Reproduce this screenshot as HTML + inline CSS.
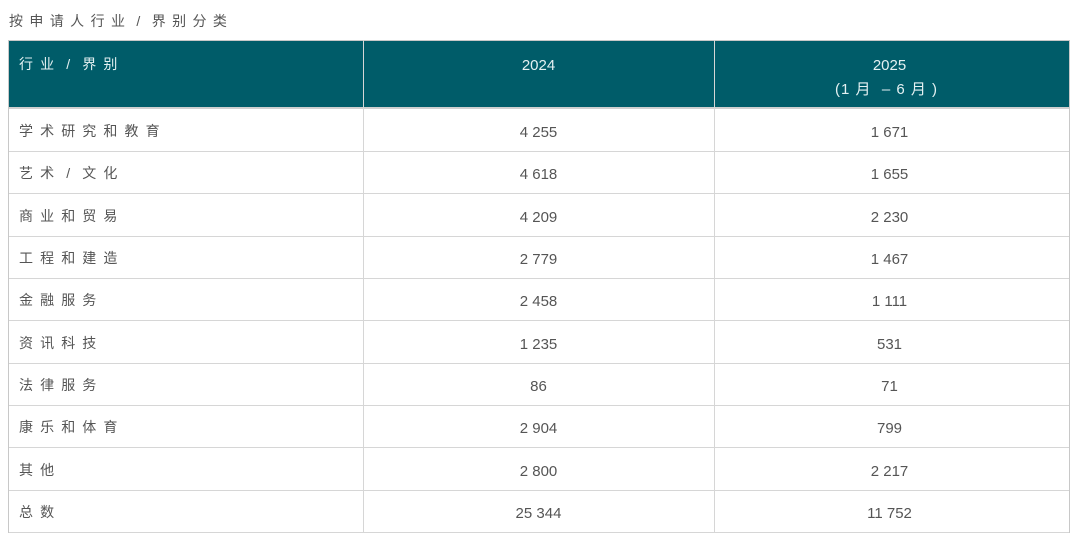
<!DOCTYPE html>
<html><head><meta charset="utf-8">
<style>
body{margin:0;width:1080px;height:544px;background:#fff;position:relative;overflow:hidden;font-family:"Liberation Sans","Noto Sans CJK SC",sans-serif;}
.t{position:absolute;left:9px;top:10px;font-size:14px;color:#555;line-height:20px;white-space:nowrap;}
.c{display:inline-block;width:14px;text-align:center;}
.t .c{margin-right:6.4px;}
.lab .c{margin-right:7.1px;}
.hdr{position:absolute;left:8px;top:40px;width:1062px;height:68px;background:#005c69;}
.hl{position:absolute;height:1px;background:#d6d6d6;left:8px;width:1062px;}
.vl{position:absolute;width:1px;background:#d6d6d6;top:40px;height:493px;}
.lab{position:absolute;left:19px;font-size:14px;color:#555;line-height:20px;white-space:nowrap;}
.num{position:absolute;width:351px;text-align:center;font-size:15px;color:#555;line-height:20px;white-space:nowrap;margin-top:1.5px;}
.h{color:#e4f1f2;}
</style></head>
<body>
<div class="t" style="top:11px"><span class="c">按</span><span class="c">申</span><span class="c">请</span><span class="c">人</span><span class="c">行</span><span class="c">业</span><span class="c">/</span><span class="c">界</span><span class="c">别</span><span class="c">分</span><span class="c">类</span></div>

<div class="hdr"></div>
<div class="hl" style="top:40px;background:#c8c8c8"></div>
<div class="hl" style="top:107px;height:2px;background:#d0d0d0"></div>

<div class="lab h" style="top:54px"><span class="c">行</span><span class="c">业</span><span class="c">/</span><span class="c">界</span><span class="c">别</span></div>
<div class="num h" style="left:363px;top:54px">2024</div>
<div class="num h" style="left:714px;top:54px">2025</div>
<div class="num h" style="left:711px;top:78px;letter-spacing:1px">(1 月 &nbsp;– 6 月 )</div>

<div class="hl" style="top:151px"></div>
<div class="hl" style="top:193px"></div>
<div class="hl" style="top:236px"></div>
<div class="hl" style="top:278px"></div>
<div class="hl" style="top:320px"></div>
<div class="hl" style="top:363px"></div>
<div class="hl" style="top:405px"></div>
<div class="hl" style="top:447px"></div>
<div class="hl" style="top:490px"></div>
<div class="hl" style="top:532px"></div>

<div class="vl" style="left:8px;background:#c8c8c8"></div>
<div class="vl" style="left:363px"></div>
<div class="vl" style="left:714px"></div>
<div class="vl" style="left:1069px;background:#c8c8c8"></div>

<!-- rows -->
<div class="lab" style="top:121px"><span class="c">学</span><span class="c">术</span><span class="c">研</span><span class="c">究</span><span class="c">和</span><span class="c">教</span><span class="c">育</span></div>
<div class="num" style="left:363px;top:121px">4 255</div>
<div class="num" style="left:714px;top:121px">1 671</div>

<div class="lab" style="top:163px"><span class="c">艺</span><span class="c">术</span><span class="c">/</span><span class="c">文</span><span class="c">化</span></div>
<div class="num" style="left:363px;top:163px">4 618</div>
<div class="num" style="left:714px;top:163px">1 655</div>

<div class="lab" style="top:206px"><span class="c">商</span><span class="c">业</span><span class="c">和</span><span class="c">贸</span><span class="c">易</span></div>
<div class="num" style="left:363px;top:206px">4 209</div>
<div class="num" style="left:714px;top:206px">2 230</div>

<div class="lab" style="top:248px"><span class="c">工</span><span class="c">程</span><span class="c">和</span><span class="c">建</span><span class="c">造</span></div>
<div class="num" style="left:363px;top:248px">2 779</div>
<div class="num" style="left:714px;top:248px">1 467</div>

<div class="lab" style="top:290px"><span class="c">金</span><span class="c">融</span><span class="c">服</span><span class="c">务</span></div>
<div class="num" style="left:363px;top:290px">2 458</div>
<div class="num" style="left:714px;top:290px">1 111</div>

<div class="lab" style="top:333px"><span class="c">资</span><span class="c">讯</span><span class="c">科</span><span class="c">技</span></div>
<div class="num" style="left:363px;top:333px">1 235</div>
<div class="num" style="left:714px;top:333px">531</div>

<div class="lab" style="top:375px"><span class="c">法</span><span class="c">律</span><span class="c">服</span><span class="c">务</span></div>
<div class="num" style="left:363px;top:375px">86</div>
<div class="num" style="left:714px;top:375px">71</div>

<div class="lab" style="top:417px"><span class="c">康</span><span class="c">乐</span><span class="c">和</span><span class="c">体</span><span class="c">育</span></div>
<div class="num" style="left:363px;top:417px">2 904</div>
<div class="num" style="left:714px;top:417px">799</div>

<div class="lab" style="top:460px"><span class="c">其</span><span class="c">他</span></div>
<div class="num" style="left:363px;top:460px">2 800</div>
<div class="num" style="left:714px;top:460px">2 217</div>

<div class="lab" style="top:502px"><span class="c">总</span><span class="c">数</span></div>
<div class="num" style="left:363px;top:502px">25 344</div>
<div class="num" style="left:714px;top:502px">11 752</div>
</body></html>
